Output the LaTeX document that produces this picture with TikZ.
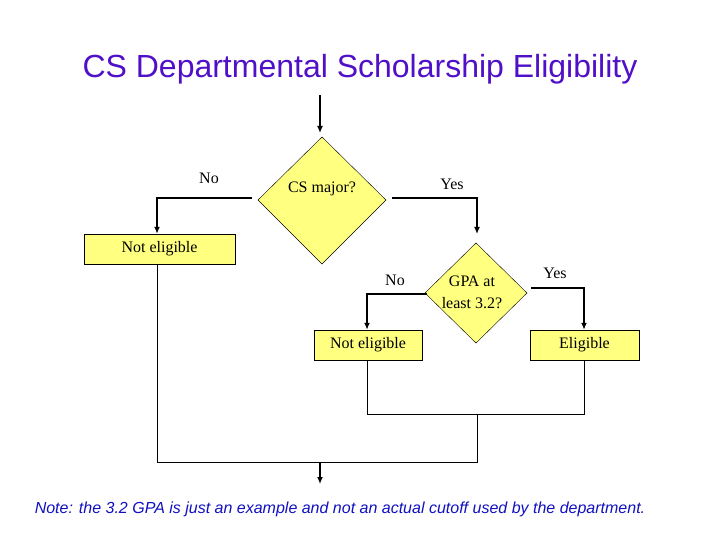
\documentclass[tikz,border=0pt]{standalone}
\usepackage{fontspec}
\setmainfont{Liberation Serif}
\newfontfamily\arial{Liberation Sans}
\usetikzlibrary{shapes.geometric,arrows.meta}
\definecolor{boxy}{HTML}{FFFF80}
\definecolor{ttl}{HTML}{5010C8}
\definecolor{notec}{HTML}{1010C0}
\begin{document}
\begin{tikzpicture}[x=1pt,y=-1pt,
  lbl/.style={font=\fontsize{16}{18}\selectfont},
  flow/.style={line width=1.6pt,-{Latex[length=7pt,width=6pt]}},
  thin/.style={line width=0.8pt}]
\useasboundingbox (0,0) rectangle (720,540);
\node[font=\arial\fontsize{32}{36}\selectfont,text=ttl] (title) at (360,69) {CS Departmental Scholarship Eligibility};
\coordinate (start) at (320,95);
\coordinate (startend) at (320,133);
\fill[boxy,draw=black] (322,137) -- (386,200) -- (322,264) -- (258,200) -- cycle;
\node[lbl] (t1) at (322,189) {CS major?};
\fill[boxy,draw=black] (476,243) -- (527,293) -- (476,343) -- (425,293) -- cycle;
\node[lbl,align=center,font=\fontsize{16}{22}\selectfont] (t2) at (472,292) {GPA at\\least 3.2?};
\node[draw,fill=boxy,minimum width=151pt,minimum height=30pt,lbl] (ne1) at (159.5,249) {Not eligible};
\node[draw,fill=boxy,minimum width=108pt,minimum height=30pt,lbl] (ne2) at (368,345) {Not eligible};
\node[draw,fill=boxy,minimum width=109pt,minimum height=30pt,lbl] (el) at (584.5,345) {Eligible};
\coordinate (a1) at (252,198);
\coordinate (a1t) at (157,198);
\coordinate (a2) at (392,198);
\coordinate (a2t) at (477,234);
\coordinate (a3) at (427,294);
\coordinate (a3t) at (367,294);
\coordinate (a4) at (531,288);
\coordinate (a4t) at (584,288);
\draw[flow] (start) -- (startend);
\draw[flow] (a1) -- (a1t) -- (a1t |- ne1.north);
\draw[flow] (a2) -| (a2t);
\draw[flow] (a3) -- (a3t) -- (a3t |- ne2.north);
\draw[flow] (a4) -- (a4t) -- (a4t |- el.north);
\node[lbl] (n1) at (209,178) {No};
\node[lbl] (y1) at (452,184) {Yes};
\node[lbl] (n2) at (395,280) {No};
\node[lbl] (y2) at (555,273) {Yes};
\coordinate (j1) at (477,414);
\coordinate (j2) at (320,462);
\coordinate (j2e) at (320,484);
\draw[thin] (a3t |- ne2.south) -- (367,414) -- (584,414) -- (a4t |- el.south);
\draw[thin] (a1t |- ne1.south) -- (157,462) -- (477,462) -- (j1);
\draw[flow] (j2) -- (j2e);
\node[font=\arial\itshape\fontsize{16}{18}\selectfont,text=notec] (note) at (340,509) {Note: the 3.2 GPA is just an example and not an actual cutoff used by the department.};
\end{tikzpicture}
\end{document}
